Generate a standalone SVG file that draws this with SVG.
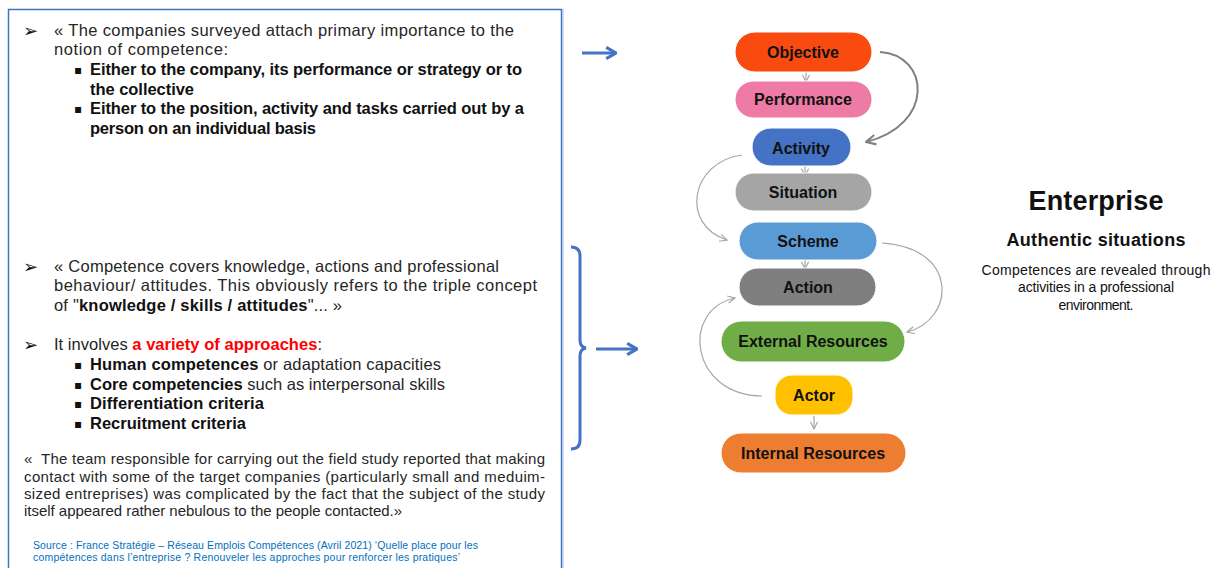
<svg xmlns="http://www.w3.org/2000/svg" width="1217" height="568" viewBox="0 0 1217 568">
<defs>
<style>
.t{font-family:"Liberation Sans",Arial,sans-serif;font-size:16.5px;fill:#262626}
.b{font-weight:bold;fill:#111}
.red{font-weight:bold;fill:#FF0000}
.p{font-family:"Liberation Sans",Arial,sans-serif;font-size:15px;fill:#262626}
.src{font-family:"Liberation Sans",Arial,sans-serif;font-size:10.5px;fill:#0070C0}
.bul{font-family:"DejaVu Sans",sans-serif;font-size:18px;fill:#111}
.sq{font-family:"DejaVu Sans",sans-serif;font-size:12px;fill:#111}
.lbl{font-family:"Liberation Sans",Arial,sans-serif;font-size:16px;font-weight:bold;fill:#111;text-anchor:middle}
.rt{font-family:"Liberation Sans",Arial,sans-serif;fill:#111;text-anchor:middle}
.pill{stroke:#ffffff;stroke-width:1}
.c{fill:none;stroke:#A6A6A6;stroke-width:1.2}
.cd{fill:none;stroke:#808080;stroke-width:2}
.blue{fill:none;stroke:#4472C4;stroke-width:3}
</style>
<marker id="mg" viewBox="0 0 10 10" refX="9" refY="5" markerWidth="9" markerHeight="9" markerUnits="userSpaceOnUse" orient="auto">
<path d="M1,1 L9,5 L1,9" fill="none" stroke="#A6A6A6" stroke-width="1.3"/>
</marker>
<marker id="mgd" viewBox="0 0 10 10" refX="9" refY="5" markerWidth="12" markerHeight="12" markerUnits="userSpaceOnUse" orient="auto">
<path d="M1,1 L9,5 L1,9" fill="none" stroke="#808080" stroke-width="1.8"/>
</marker>
<marker id="mb" viewBox="0 0 10 10" refX="9" refY="5" markerWidth="14" markerHeight="14" markerUnits="userSpaceOnUse" orient="auto">
<path d="M2,1 L9,5 L2,9" fill="none" stroke="#4472C4" stroke-width="2.2"/>
</marker>
</defs>
<rect width="1217" height="568" fill="#ffffff"/>

<g id="text-box">
<rect x="8.5" y="9.5" width="553" height="600" fill="none" stroke="#4472C4" stroke-width="1.5"/>
<line x1="563" y1="9" x2="563" y2="568" stroke="#A9C4EB" stroke-width="1.2"/>
<text class="bul" x="23" y="37">➢</text>
<text class="t" x="54" y="36" textLength="460">« The companies surveyed attach primary importance to the</text>
<text class="t" x="54" y="55" textLength="174">notion of competence:</text>
<text class="sq" x="74" y="74">▪</text>
<text class="t b" x="90" y="75" textLength="432">Either to the company, its performance or strategy or to</text>
<text class="t b" x="90" y="95" textLength="104">the collective</text>
<text class="sq" x="74" y="113">▪</text>
<text class="t b" x="90" y="114" textLength="434">Either to the position, activity and tasks carried out by a</text>
<text class="t b" x="90" y="134" textLength="226">person on an individual basis</text>

<text class="bul" x="23" y="273">➢</text>
<text class="t" x="54" y="272" textLength="445">« Competence covers knowledge, actions and professional</text>
<text class="t" x="54" y="291" textLength="483">behaviour/ attitudes. This obviously refers to the triple concept</text>
<text class="t" x="54" y="311" textLength="288">of "<tspan class="b">knowledge / skills / attitudes</tspan>"... »</text>
<text class="bul" x="23" y="351">➢</text>
<text class="t" x="54" y="350" textLength="268">It involves <tspan class="red">a variety of approaches</tspan>:</text>
<text class="sq" x="74" y="369">▪</text>
<text class="t" x="90" y="370" textLength="351"><tspan class="b">Human competences</tspan> or adaptation capacities</text>
<text class="sq" x="74" y="389">▪</text>
<text class="t" x="90" y="390" textLength="355"><tspan class="b">Core competencies</tspan> such as interpersonal skills</text>
<text class="sq" x="74" y="408">▪</text>
<text class="t b" x="90" y="409" textLength="174">Differentiation criteria</text>
<text class="sq" x="74" y="428">▪</text>
<text class="t b" x="90" y="429" textLength="156">Recruitment criteria</text>

<text class="p" x="24" y="464" textLength="521">«&#160; The team responsible for carrying out the field study reported that making</text>
<text class="p" x="24" y="482" textLength="521">contact with some of the target companies (particularly small and meduim-</text>
<text class="p" x="24" y="499" textLength="521">sized entreprises) was complicated by the fact that the subject of the study</text>
<text class="p" x="24" y="516" textLength="378">itself appeared rather nebulous to the people contacted.»</text>

<text class="src" x="33" y="549" textLength="445">Source : France Stratégie – Réseau Emplois Compétences (Avril 2021) ‘Quelle place pour les</text>
<text class="src" x="33" y="561" textLength="427">compétences dans l’entreprise ? Renouveler les approches pour renforcer les pratiques’</text>
</g>

<g id="brace">
<path class="blue" d="M571,247 Q580,247 580,256 L580,340 Q580,347 586,348 Q580,349 580,356 L580,440 Q580,449 571,449"/>
</g>

<g id="connectors">
<line class="blue" x1="582" y1="53" x2="616" y2="53" marker-end="url(#mb)"/>
<line class="blue" x1="596" y1="349" x2="637" y2="349" marker-end="url(#mb)"/>
<line class="c" x1="806" y1="72" x2="806" y2="82" marker-end="url(#mg)"/>
<line class="c" x1="805" y1="166" x2="805" y2="176" marker-end="url(#mg)"/>
<line class="c" x1="805" y1="260" x2="805" y2="269" marker-end="url(#mg)"/>
<line class="c" x1="814" y1="416" x2="814" y2="429" marker-end="url(#mg)"/>
<path class="cd" d="M880,52 C930,55 935,125 866,142" marker-end="url(#mgd)"/>
<path class="c" d="M742,155 C690,162 680,225 727,240" marker-end="url(#mg)"/>
<path class="c" d="M882,243 C960,248 955,320 907,332" marker-end="url(#mg)"/>
<path class="c" d="M762,396 C690,395 680,310 735,298" marker-end="url(#mg)"/>
</g>

<g id="objective"><rect class="pill" x="735" y="32" width="137" height="40" rx="20" fill="#F94A10"/><text class="lbl" x="803" y="58">Objective</text></g>
<g id="performance"><rect class="pill" x="735" y="81" width="137" height="37" rx="18.5" fill="#EE7BA6"/><text class="lbl" x="803" y="105">Performance</text></g>
<g id="activity"><rect class="pill" x="752" y="128" width="99" height="38" rx="19" fill="#4472C4"/><text class="lbl" x="801" y="154">Activity</text></g>
<g id="situation"><rect class="pill" x="735" y="173" width="137" height="38" rx="19" fill="#A5A5A5"/><text class="lbl" x="803" y="198">Situation</text></g>
<g id="scheme"><rect class="pill" x="739" y="222" width="138" height="38" rx="19" fill="#5B9BD5"/><text class="lbl" x="808" y="247">Scheme</text></g>
<g id="action"><rect class="pill" x="739" y="268" width="137" height="38" rx="19" fill="#7F7F7F"/><text class="lbl" x="808" y="293">Action</text></g>
<g id="external-resources"><rect class="pill" x="721" y="321" width="184" height="41" rx="20.5" fill="#70AD47"/><text class="lbl" x="813" y="347">External Resources</text></g>
<g id="actor"><rect class="pill" x="775" y="375" width="78" height="40" rx="17" fill="#FFC000"/><text class="lbl" x="814" y="401">Actor</text></g>
<g id="internal-resources"><rect class="pill" x="721" y="433" width="185" height="40" rx="20" fill="#ED7D31"/><text class="lbl" x="813" y="459">Internal Resources</text></g>

<g id="enterprise">
<text class="rt" x="1096" y="210" font-size="27" font-weight="bold" textLength="135">Enterprise</text>
<text class="rt" x="1096" y="246" font-size="18" font-weight="bold" textLength="179">Authentic situations</text>
<text class="rt" x="1096" y="275" font-size="14" textLength="229">Competences are revealed through</text>
<text class="rt" x="1096" y="292" font-size="14" textLength="156">activities in a professional</text>
<text class="rt" x="1096" y="310" font-size="14" textLength="75">environment.</text>
</g>
</svg>
